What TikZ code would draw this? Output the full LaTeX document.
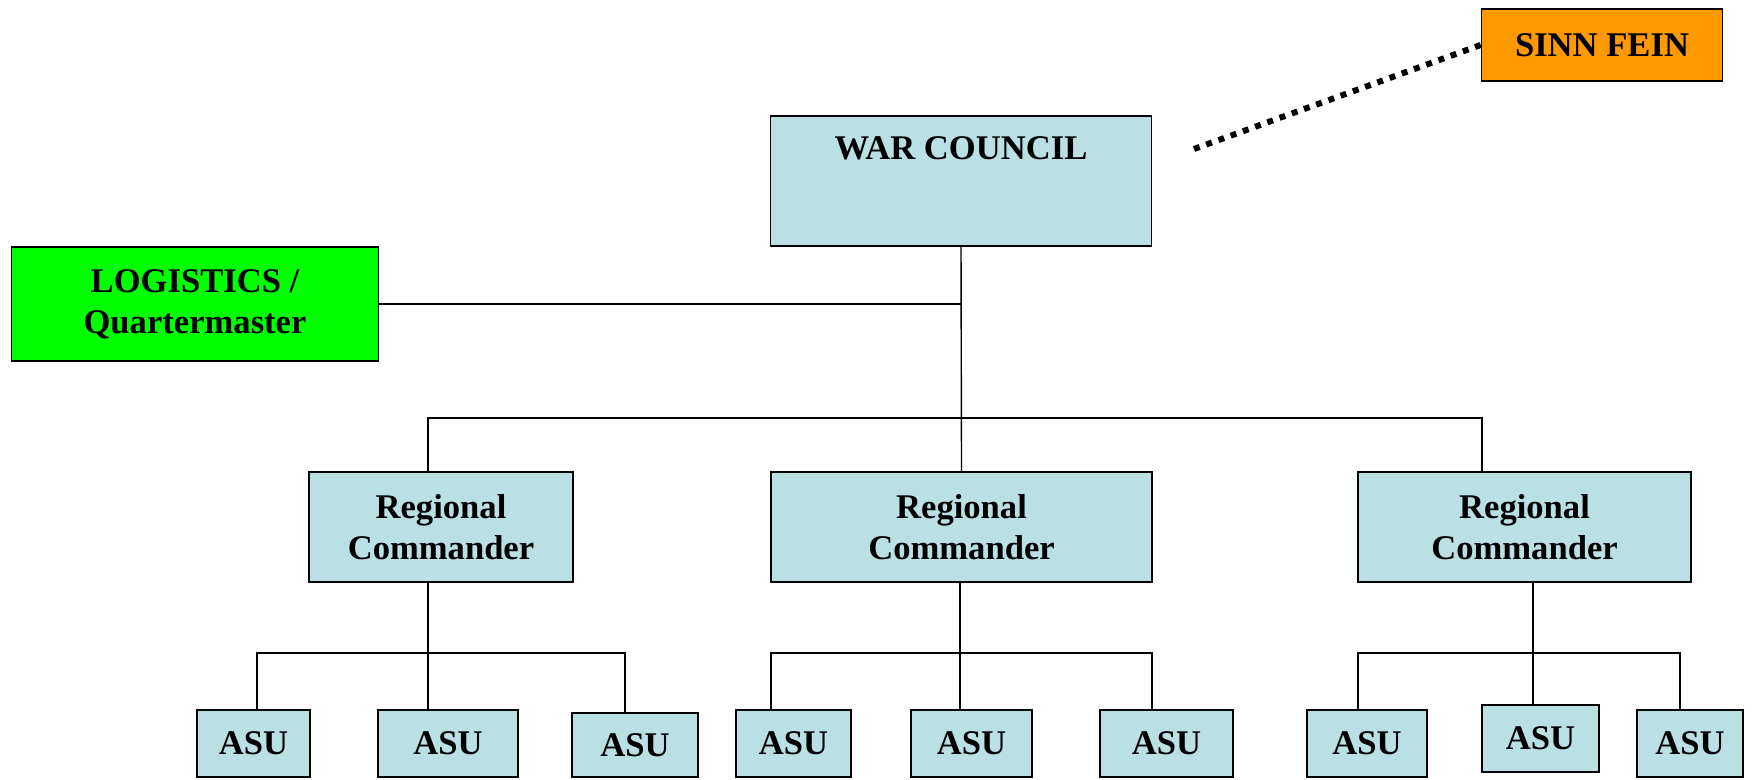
\documentclass[tikz,border=0pt]{standalone}
\usepackage{fontspec}
\setmainfont{Liberation Serif}
\usetikzlibrary{positioning, calc}

\definecolor{cmdfill}{HTML}{BBE0E3}
\definecolor{logfill}{HTML}{00FF00}
\definecolor{sffill}{HTML}{FF9900}

\begin{document}
\begin{tikzpicture}[
    x=0.5pt, y=-0.5pt,
    font=\fontsize{17.3}{20.5}\selectfont\bfseries,
    cmdbox/.style={draw, line width=0.9pt, fill=cmdfill, align=center,
      inner sep=0pt, minimum height=55pt},
    asubox/.style={draw, line width=0.9pt, fill=cmdfill, align=center,
      inner sep=0pt, minimum height=33.5pt},
    logbox/.style={draw, line width=0.9pt, fill=logfill, align=center,
      inner sep=0pt, minimum width=183.5pt, minimum height=57pt},
    sfbox/.style={draw, line width=0.9pt, fill=sffill, align=center,
      inner sep=0pt, minimum width=120.5pt, minimum height=36pt},
    link/.style={line width=0.7pt},
    dotlink/.style={line width=3pt, dash pattern=on 3pt off 3.5pt}
  ]
  \useasboundingbox (0,0) rectangle (1754,780);

  \node[cmdbox, minimum width=190.5pt, text height=22pt, text depth=43pt] (war) at (961,181) {WAR COUNCIL};
  \node[sfbox] (sf) at (1602,45) {SINN FEIN};
  \node[logbox] (log) at (195,304) {LOGISTICS /\\ Quartermaster};

  \node[cmdbox, minimum width=132pt] (rcA) at (441,527) {Regional\\ Commander};
  \node[cmdbox, minimum width=190.5pt] (rcB) at (961.5,527) {Regional\\ Commander};
  \node[cmdbox, minimum width=166.5pt] (rcC) at (1524.5,527) {Regional\\ Commander};

  \node[asubox, minimum width=56.5pt] (asuA) at (253.5,743.5) {ASU};
  \node[asubox, minimum width=70pt] (asuB) at (448,743.5) {ASU};
  \node[asubox, minimum width=63pt, minimum height=32pt] (asuC) at (635,745) {ASU};
  \node[asubox, minimum width=57.5pt] (asuD) at (793.5,743.5) {ASU};
  \node[asubox, minimum width=60.5pt] (asuE) at (971.5,743.5) {ASU};
  \node[asubox, minimum width=66.5pt] (asuF) at (1166.5,743.5) {ASU};
  \node[asubox, minimum width=60pt] (asuG) at (1367,743.5) {ASU};
  \node[asubox, minimum width=58.5pt] (asuH) at (1540.5,738.5) {ASU};
  \node[asubox, minimum width=53pt] (asuI) at (1690,743.5) {ASU};

  \coordinate (topL) at (428,418);
  \coordinate (topR) at (1482,418);
  \coordinate (barAl) at (257,653);
  \coordinate (barAm) at (428,653);
  \coordinate (barAr) at (625,653);
  \coordinate (barBl) at (771,653);
  \coordinate (barBm) at (960,653);
  \coordinate (barBr) at (1152,653);
  \coordinate (barCl) at (1358,653);
  \coordinate (barCm) at (1533,653);
  \coordinate (barCr) at (1680,653);
  \coordinate (sfend) at (1194,149);

  \draw[dotlink] (sfend) -- (sf.west);

  \draw[link] (war.south) -- (rcB.north);
  \draw[link] (log.east) -- (log.east -| war.south);
  \draw[link] (rcA.north -| topL) -- (topL) -- (topR) -- (rcC.north -| topR);

  \draw[link] (rcA.south -| barAm) -- (asuB.north -| barAm);
  \draw[link] (asuA.north -| barAl) -- (barAl) -- (barAr) -- (asuC.north -| barAr);
  \draw[link] (rcB.south -| barBm) -- (asuE.north -| barBm);
  \draw[link] (asuD.north -| barBl) -- (barBl) -- (barBr) -- (asuF.north -| barBr);
  \draw[link] (rcC.south -| barCm) -- (asuH.north -| barCm);
  \draw[link] (asuG.north -| barCl) -- (barCl) -- (barCr) -- (asuI.north -| barCr);
\end{tikzpicture}
\end{document}
